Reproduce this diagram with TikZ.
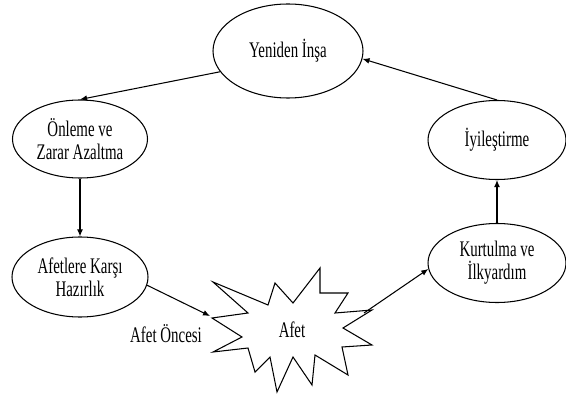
\documentclass[tikz,border=0pt]{standalone}
\usepackage{fontspec}
\setmainfont{Liberation Serif}[FakeStretch=0.67]
\usetikzlibrary{shapes.geometric,arrows.meta}

\tikzset{
  phase/.style={draw, ellipse, line width=0.9pt, inner sep=0pt, align=center,
    font=\fontsize{19}{19.5}\selectfont},
  flow/.style={line width=0.9pt, -{Latex[length=6pt,width=5pt]}}
}

\begin{document}
\begin{tikzpicture}[x=0.03cm,y=-0.03cm]
\useasboundingbox (0,0) rectangle (566,401);

% cycle phases
\node [phase, minimum width=150*0.03cm, minimum height=94*0.03cm] (yeniden) at (288,51) {Yeniden \.Inşa};
\node [phase, minimum width=135*0.03cm, minimum height=78*0.03cm] (onleme) at (80,139) {Önleme ve\\Zarar Azaltma};
\node [phase, minimum width=136*0.03cm, minimum height=80*0.03cm] (afetlere) at (80,277) {Afetlere Karşı\\Hazırlık};
\node [phase, minimum width=138*0.03cm, minimum height=79*0.03cm] (iyilestirme) at (497,140) {\.Iyileştirme};
\node [phase, minimum width=138*0.03cm, minimum height=79*0.03cm] (kurtulma) at (497,263) {Kurtulma ve\\\.Ilkyardım};

% the disaster star
\draw [line width=0.9pt, line join=miter]
  (213,282) -- (268,305) -- (275,283) -- (293,303) -- (320,268) -- (320,293)
  -- (348,293) -- (335,313) -- (372,310) -- (343,328) -- (372,345) -- (342,347)
  -- (348,375) -- (315,355) -- (312,385) -- (293,357) -- (277,392) -- (270,357)
  -- (255,372) -- (248,348) -- (213,352) -- (242,337) -- (212,318) -- (248,313)
  -- cycle;
\node [font=\fontsize{19}{19.5}\selectfont] (afet) at (292,330) {Afet};
\coordinate (afetW) at (210,316);
\coordinate (afetE) at (364,313);

\node [font=\fontsize{19}{19.5}\selectfont] (oncesi) at (166,334) {Afet Öncesi};

% arrows
\draw [flow] (yeniden.197) -- (onleme.north);
\draw [flow] (onleme.south) -- (afetlere.north);
\draw [flow] (afetlere.-7) -- (afetW);
\draw [flow] (afetE) -- (kurtulma.185);
\draw [flow] (kurtulma.north) -- (iyilestirme.south);
\draw [flow] (iyilestirme.north) -- (yeniden.-6);
\end{tikzpicture}
\end{document}
